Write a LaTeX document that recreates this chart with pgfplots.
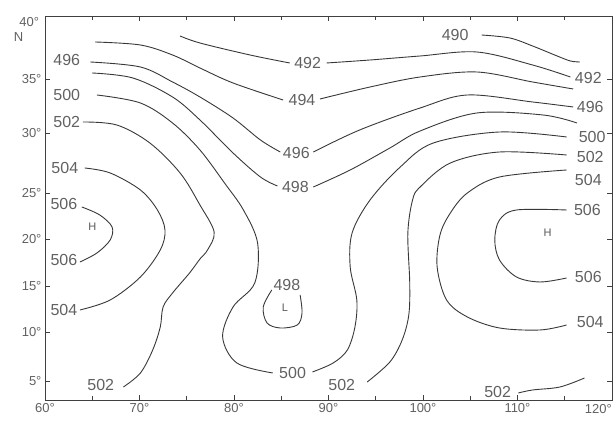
\documentclass[border=0pt]{standalone}
\usepackage{fontspec}
\setmainfont{Liberation Sans}
\usepackage{pgfplots}
\pgfplotsset{compat=1.18}
\begin{document}
\begin{tikzpicture}
\tikzset{
  cont/.style={black!78, line width=0.9pt, smooth, tension=0.55, mark=none},
  lab/.style={font=\fontsize{16}{16}\selectfont, text=black!62, inner sep=0pt},
  hl/.style={font=\fontsize{11}{11}\selectfont, text=black!65, inner sep=0pt}
}
\begin{axis}[
  x=9.45pt, y=10pt,
  xmin=60, xmax=120, ymin=3, ymax=41.4,
  clip=false,
  axis line style={black!75, line width=0.9pt},
  tick style={black!75, line width=0.7pt},
  major tick length=5pt, minor tick length=4pt,
  tick align=inside,
  xtick={60,70,80,90,100,110,120},
  xticklabels={60°,70°,80°,90°,100°,110°,{}},
  minor xtick={65,75,85,95,105,115},
  ytick={4.9,9.8,14.4,19.1,23.7,29.7,35.1},
  yticklabels={5°,10°,15°,20°,25°,30°,35°},
  ticklabel style={font=\fontsize{13}{13}\selectfont, text=black!62},
]
% 490
\addplot[cont] coordinates {(106.2,39.5) (109.2,39.2) (111.6,38.4) (114.2,37.4) (115.6,36.9) (116.6,36.8)};
% 492
\addplot[cont] coordinates {(74.3,39.4) (76.4,38.7) (81.7,37.5) (85.9,36.7)};
\addplot[cont] coordinates {(89.8,36.7) (94.4,37.0) (99.7,37.4) (105.7,37.8) (111.6,36.5) (115.6,35.3)};
% 494
\addplot[cont] coordinates {(65.3,38.8) (70.1,38.5) (73.5,37.5) (76.4,36.2) (79.9,34.7) (85.2,33.0)};
\addplot[cont] coordinates {(89.1,33.1) (94.4,34.3) (99.7,35.3) (105.7,35.8) (111.6,34.8) (115.9,34.1)};
% 496
\addplot[cont] coordinates {(64.8,36.8) (70.1,36.3) (73.5,34.8) (76.4,33.3) (79.9,31.2) (82.8,29.0) (84.9,27.8)};
\addplot[cont] coordinates {(88.4,27.8) (93.3,30.0) (99.7,32.2) (104.7,33.5) (111.6,32.8) (115.9,32.3)};
% 498
\addplot[cont] coordinates {(65.0,35.7) (69.3,35.2) (73.5,33.3) (76.4,31.0) (79.9,27.7) (82.8,25.3) (84.6,24.4)};
\addplot[cont] coordinates {(88.4,24.3) (92.3,26.0) (96.5,28.2) (99.7,29.9) (105.7,31.7) (112.7,31.5) (116.3,30.7)};
% 498 low
\addplot[cont] coordinates {(84.0,14.0) (83.1,12.3) (83.5,10.7) (84.9,10.2) (86.7,10.5) (87.2,11.7) (87.0,13.5)};
% 500
\addplot[cont] coordinates {(65.5,33.5) (70.1,32.7) (73.5,30.7) (76.4,28.0) (79.0,24.7) (81.0,22.0) (82.5,18.7) (82.2,14.7) (79.9,12.3) (78.8,9.3) (80.3,6.7) (84.1,5.7)};
\addplot[cont] coordinates {(88.3,5.8) (90.5,6.7) (92.0,8.0) (92.8,10.3) (93.0,13.0) (92.3,16.3) (92.5,19.7) (94.4,23.0) (97.6,26.3) (101.1,28.7) (108.1,29.8) (115.2,29.3)};
% 502
\addplot[cont] coordinates {(64.0,30.8) (67.6,30.5) (71.1,28.7) (74.3,25.7) (76.4,22.5) (77.9,19.8) (77.2,18.0) (76.4,17.1) (75.3,15.7) (73.5,13.7) (72.5,12.3) (72.2,10.3) (71.4,8.0) (70.1,5.7) (68.3,4.3)};
\addplot[cont] coordinates {(94.1,4.8) (96.5,6.8) (97.8,9.0) (98.5,11.5) (98.6,14.7) (98.4,19.7) (98.9,23.0) (99.7,24.3) (102.9,26.7) (108.1,27.8) (115.2,27.5)};
\addplot[cont] coordinates {(110.1,3.7) (111.6,4.0) (114.5,4.3) (117.1,5.2)};
% 504
\addplot[cont] coordinates {(64.2,26.2) (66.9,25.7) (70.1,24.0) (71.9,22.0) (72.7,20.0) (72.2,18.0) (70.1,15.3) (66.9,13.0) (63.7,12.0)};
\addplot[cont] coordinates {(115.2,26.0) (108.1,25.3) (104.7,23.7) (102.9,21.7) (101.8,19.5) (101.5,16.3) (102.5,13.0) (104.7,11.3) (108.1,10.2) (112.4,10.0) (115.2,10.5)};
% 506
\addplot[cont] coordinates {(63.9,22.3) (65.8,21.5) (67.1,20.3) (66.9,19.0) (65.5,17.7) (63.7,16.8)};
\addplot[cont] coordinates {(115.2,22.0) (109.9,22.0) (108.1,21.0) (107.6,19.0) (108.1,17.0) (109.9,15.3) (112.4,14.8) (115.2,15.2)};
% labels
\node[lab] at (axis cs:103.4,39.5) {490};
\node[lab] at (axis cs:87.8,36.7) {492};
\node[lab] at (axis cs:117.5,35.2) {492};
\node[lab] at (axis cs:87.2,33.0) {494};
\node[lab] at (axis cs:62.3,37.0) {496};
\node[lab] at (axis cs:86.6,27.7) {496};
\node[lab] at (axis cs:117.7,32.3) {496};
\node[lab] at (axis cs:86.5,24.3) {498};
\node[lab] at (axis cs:85.6,14.5) {498};
\node[lab] at (axis cs:62.3,33.5) {500};
\node[lab] at (axis cs:86.2,5.7) {500};
\node[lab] at (axis cs:117.9,29.3) {500};
\node[lab] at (axis cs:62.3,30.8) {502};
\node[lab] at (axis cs:65.9,4.5) {502};
\node[lab] at (axis cs:91.4,4.5) {502};
\node[lab] at (axis cs:107.9,3.8) {502};
\node[lab] at (axis cs:117.7,27.3) {502};
\node[lab] at (axis cs:62.1,26.2) {504};
\node[lab] at (axis cs:62.0,12.0) {504};
\node[lab] at (axis cs:117.5,25.0) {504};
\node[lab] at (axis cs:117.7,10.8) {504};
\node[lab] at (axis cs:62.0,22.6) {506};
\node[lab] at (axis cs:62.0,17.0) {506};
\node[lab] at (axis cs:117.4,22.0) {506};
\node[lab] at (axis cs:117.5,15.3) {506};
\node[hl] at (axis cs:65.0,20.3) {H};
\node[hl] at (axis cs:113.2,19.7) {H};
\node[hl] at (axis cs:85.4,12.2) {L};
\node[font=\fontsize{13}{13}\selectfont, text=black!62, anchor=east, inner sep=0pt] at (axis cs:59.4,40.8) {40°};
\node[font=\fontsize{13}{13}\selectfont, text=black!62, inner sep=0pt] at (axis cs:57.2,39.3) {N};
\node[font=\fontsize{13}{13}\selectfont, text=black!62, anchor=north east, inner sep=0pt, yshift=-4.3pt] at (axis cs:120.0,3) {120°};
\coordinate (bl) at (axis cs:55.24,0.3);
\coordinate (tr) at (axis cs:120.11,43.0);
\end{axis}
\pgfresetboundingbox
\path[use as bounding box] (bl) rectangle (tr);
\end{tikzpicture}
\end{document}
